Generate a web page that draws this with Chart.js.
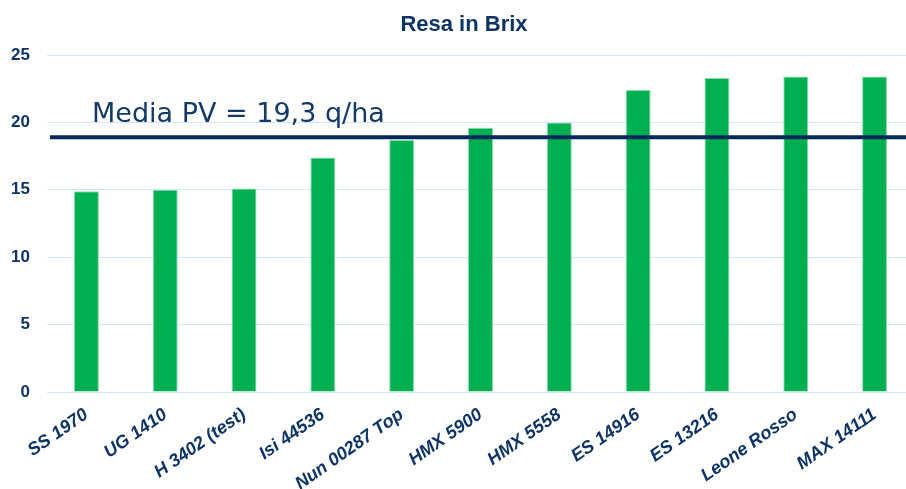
<!DOCTYPE html>
<html>
<head>
<meta charset="utf-8">
<script src="https://cdn.jsdelivr.net/npm/chart.js@4/dist/chart.umd.min.js"></script>
<style>
  html, body { margin: 0; padding: 0; background: #ffffff; overflow: hidden; }
  #wrap { position: relative; width: 914px; height: 489px; }
</style>
</head>
<body>
<div id="wrap"><canvas id="c"></canvas></div>
<script>
// ---- data ----
const chartTitle = "Resa in Brix";
const categories = ["SS 1970", "UG 1410", "H 3402 (test)", "Isi 44536", "Nun 00287 Top", "HMX 5900", "HMX 5558", "ES 14916", "ES 13216", "Leone Rosso", "MAX 14111"];
const resaValues = [14.9, 15.0, 15.1, 17.4, 18.7, 19.6, 20.0, 22.4, 23.3, 23.4, 23.4];
const mediaLevel = 18.9;
const mediaLabel = "Media PV = 19,3 q/ha";
const yTicks = [0, 5, 10, 15, 20, 25];

const navy = "#0d3466";

const overlay = {
  id: "overlay",
  afterDatasetsDraw(chart) {
    const ctx = chart.ctx;
    const y = chart.scales.y.getPixelForValue(mediaLevel);
    ctx.save();
    ctx.strokeStyle = "#00285a";
    ctx.lineWidth = 4;
    ctx.beginPath();
    ctx.moveTo(50, y);
    ctx.lineTo(chart.width, y);
    ctx.stroke();
    ctx.fillStyle = "#133a66";
    ctx.font = "27px 'DejaVu Sans'";
    ctx.textAlign = "left";
    ctx.textBaseline = "alphabetic";
    ctx.fillText(mediaLabel, 92, y - 15);
    ctx.fillStyle = navy;
    ctx.font = "bold 22px 'Liberation Sans', Arial";
    ctx.textAlign = "center";
    ctx.textBaseline = "middle";
    ctx.fillText(chartTitle, 464, 25);
    ctx.restore();
  }
};

new Chart(document.getElementById("c"), {
  type: "bar",
  data: {
    labels: categories,
    datasets: [{
      data: resaValues,
      backgroundColor: "#00b050",
      borderColor: "#8fdcb2",
      borderWidth: { top: 1, left: 1, right: 1, bottom: 0 },
      borderSkipped: false,
      barPercentage: 0.317,
      categoryPercentage: 1.0
    }]
  },
  options: {
    responsive: true,
    maintainAspectRatio: false,
    animation: false,
    layout: { padding: { top: 55, right: 0, left: 0, bottom: 0 } },
    plugins: { legend: { display: false }, title: { display: false }, tooltip: { enabled: false } },
    scales: {
      x: {
        grid: { display: false, drawTicks: false },
        border: { display: false },
        ticks: {
          color: navy,
          font: { family: "'Liberation Sans', Arial", size: 18, weight: "bold", style: "italic" },
          maxRotation: 35, minRotation: 35,
          padding: 12,
          autoSkip: false
        },
        afterFit(scale) { scale.height = 97; }
      },
      y: {
        min: 0, max: 25,
        afterBuildTicks(scale) { scale.ticks = yTicks.map(v => ({ value: v })); },
        grid: { color: "#d3e6f8", lineWidth: 1, drawTicks: false },
        border: { display: false },
        ticks: {
          color: navy,
          font: { family: "'Liberation Sans', Arial", size: 17, weight: "bold" },
          padding: 17
        },
        afterFit(scale) { scale.width = 47; }
      }
    }
  },
  plugins: [overlay]
});
</script>
</body>
</html>
